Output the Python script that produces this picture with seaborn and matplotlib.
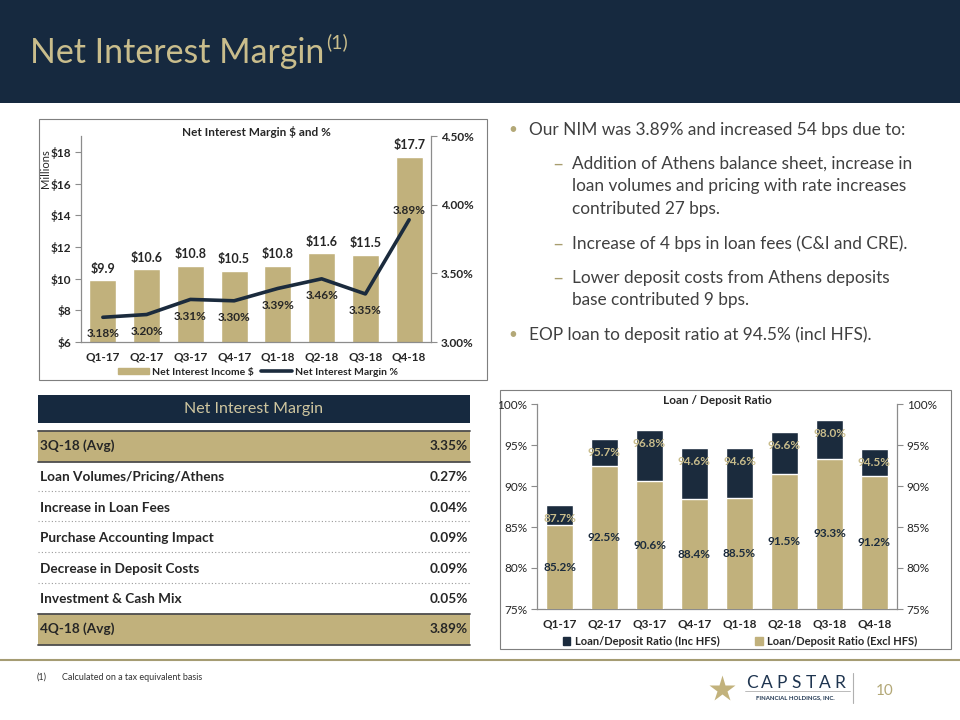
import numpy as np
import matplotlib
matplotlib.use("Agg")
import matplotlib.pyplot as plt
from matplotlib.patches import Rectangle, Patch
from matplotlib.lines import Line2D
import seaborn as sns

# ---------------- data ----------------
quarters = ["Q1-17", "Q2-17", "Q3-17", "Q4-17", "Q1-18", "Q2-18", "Q3-18", "Q4-18"]
nii_millions = [9.9, 10.6, 10.8, 10.5, 10.8, 11.6, 11.5, 17.7]
nim_pct = [3.18, 3.20, 3.31, 3.30, 3.39, 3.46, 3.35, 3.89]
ld_inc_hfs = [87.7, 95.7, 96.8, 94.6, 94.6, 96.6, 98.0, 94.5]
ld_excl_hfs = [85.2, 92.5, 90.6, 88.4, 88.5, 91.5, 93.3, 91.2]

left_ticks = [6, 8, 10, 12, 14, 16, 18]
right_ticks = [3.00, 3.50, 4.00, 4.50]
ld_ticks = [75, 80, 85, 90, 95, 100]

table_labels = ["3Q-18 (Avg)", "Loan Volumes/Pricing/Athens", "Increase in Loan Fees",
                "Purchase Accounting Impact", "Decrease in Deposit Costs",
                "Investment & Cash Mix", "4Q-18 (Avg)"]
table_values = ["3.35%", "0.27%", "0.04%", "0.09%", "0.09%", "0.05%", "3.89%"]

bullet_main_1 = "Our NIM was 3.89% and increased 54 bps due to:"
sub_bullets = [
    ["Addition of Athens balance sheet, increase in",
     "loan volumes and pricing with rate increases",
     "contributed 27 bps."],
    ["Increase of 4 bps in loan fees (C&I and CRE)."],
    ["Lower deposit costs from Athens deposits",
     "base contributed 9 bps."],
]
bullet_main_2 = "EOP loan to deposit ratio at 94.5% (incl HFS)."

# ---------------- style ----------------
sns.set_style("white")
plt.rcParams["font.family"] = ["Lato", "DejaVu Sans"]

NAVY = "#16293f"
GOLD = "#c1b17c"
TITLE_GOLD = "#c9bd8c"
TEXT = "#262626"
SPINE = "#8c8c8c"

W, H = 960, 720
fig = plt.figure(figsize=(9.6, 7.2), dpi=100)
fig.patch.set_facecolor("white")


def rect(l, t, r, b):
    return [l / W, 1 - b / H, (r - l) / W, (b - t) / H]


# overlay axes in pixel coordinates
ax0 = fig.add_axes([0, 0, 1, 1])
ax0.set_xlim(0, W)
ax0.set_ylim(H, 0)
ax0.axis("off")

# header band
ax0.add_patch(Rectangle((0, 0), W, 103, color=NAVY, lw=0))
title = ax0.text(30, 63, "Net Interest Margin", color=TITLE_GOLD, fontsize=24.4,
                 va="baseline", ha="left")
fig.canvas.draw()
title_end = title.get_window_extent(renderer=fig.canvas.get_renderer()).x1
ax0.text(title_end + 2, 48, "(1)", color=TITLE_GOLD, fontsize=14, va="baseline", ha="left")

# chart frames
ax0.add_patch(Rectangle((38.5, 118.5), 448, 261, fill=False, ec="#7f7f7f", lw=0.8))
ax0.add_patch(Rectangle((499.5, 389.5), 451, 259, fill=False, ec="#7f7f7f", lw=0.8))

# ---------------- top chart ----------------
ax1 = fig.add_axes(rect(81, 136, 431, 342))
ax1.set_facecolor("none")
sns.barplot(x=quarters, y=nii_millions, color=GOLD, saturation=1, width=0.62,
            errorbar=None, ax=ax1, zorder=2)
ax1.set_ylim(6, 19)
ax1.set_xlim(-0.5, len(quarters) - 0.5)
ax1.set_yticks(left_ticks)
ax1.set_yticklabels([f"${t}" for t in left_ticks])
ax1.set_xlabel("")
ax1.set_ylabel("")
for i, v in enumerate(nii_millions):
    ax1.annotate(f"${v}", (i, v), xytext=(0, 4), textcoords="offset points",
                 ha="center", va="bottom", fontsize=9, fontweight="bold", color=TEXT)

ax2 = ax1.twinx()
sns.lineplot(x=np.arange(len(quarters)), y=nim_pct, color="#1b2b3d", linewidth=2.6, ax=ax2)
ax2.set_ylim(3.0, 4.5)
ax2.set_xlim(-0.5, len(quarters) - 0.5)
ax2.set_yticks(right_ticks)
ax2.set_yticklabels([f"{t:.2f}%" for t in right_ticks])
ax2.set_ylabel("")
for i, v in enumerate(nim_pct):
    dy = 7 if i == len(nim_pct) - 1 else -12
    ax2.annotate(f"{v:.2f}%", (i, v), xytext=(0, dy), textcoords="offset points",
                 ha="center", va="center", fontsize=8.5, fontweight="bold", color=TEXT)

for ax in (ax1, ax2):
    for s in ax.spines.values():
        s.set_visible(False)
ax1.spines["left"].set_visible(True)
ax1.spines["bottom"].set_visible(True)
ax2.spines["right"].set_visible(True)
for s in (ax1.spines["left"], ax1.spines["bottom"], ax2.spines["right"]):
    s.set_color(SPINE)
    s.set_linewidth(0.9)
ax1.set_xticks(np.arange(-0.5, len(quarters), 1), minor=True)
ax1.tick_params(axis="x", which="major", length=0, pad=7, labelsize=8.5, labelcolor=TEXT)
ax1.tick_params(axis="x", which="minor", length=4, color=SPINE, direction="out")
ax1.tick_params(axis="y", length=4, color=SPINE, direction="out", labelsize=8.5,
                labelcolor=TEXT, pad=3, left=True)
ax2.tick_params(axis="y", length=4, color=SPINE, direction="out", labelsize=8.5,
                labelcolor=TEXT, pad=3, right=True)
for lab in ax1.get_xticklabels() + ax1.get_yticklabels() + ax2.get_yticklabels():
    lab.set_fontweight("bold")

fig.text(256 / W, 1 - 132 / H, "Net Interest Margin $ and %", ha="center", va="center",
         fontsize=8.5, fontweight="bold", color=TEXT)
fig.text(45 / W, 1 - 169 / H, "Millions", rotation=90, ha="center", va="center",
         fontsize=8, color=TEXT)

leg1 = fig.legend(handles=[Patch(color=GOLD), Line2D([0], [0], color="#1b2b3d", lw=2.6)],
                  labels=["Net Interest Income $", "Net Interest Margin %"],
                  loc="center", bbox_to_anchor=(258 / W, 1 - 372 / H), ncol=2,
                  frameon=False, fontsize=7.5, handlelength=3.0, handleheight=0.55,
                  columnspacing=0.6, handletextpad=0.3)
for t in leg1.get_texts():
    t.set_fontweight("bold")
    t.set_color(TEXT)

# ---------------- bullets ----------------
BUL = "#404040"
BFS = 12.4
ax0.text(513, 130, "•", color="#b3a877", fontsize=11, ha="center", va="center")
ax0.text(529, 130, bullet_main_1, color=BUL, fontsize=BFS, ha="left", va="center")
sub_y = [[164, 186, 209], [244], [278, 300]]
for lines, ys in zip(sub_bullets, sub_y):
    ax0.text(558, ys[0], "–", color="#a89d6e", fontsize=14, ha="center", va="center")
    for line, y in zip(lines, ys):
        ax0.text(572, y, line, color=BUL, fontsize=BFS, ha="left", va="center")
ax0.text(513, 335, "•", color="#b3a877", fontsize=11, ha="center", va="center")
ax0.text(529, 335, bullet_main_2, color=BUL, fontsize=BFS, ha="left", va="center")

# ---------------- table ----------------
TL, TR = 38, 470
ax0.add_patch(Rectangle((TL, 395), TR - TL, 28, color=NAVY, lw=0))
ax0.text((TL + TR) / 2, 409.5, "Net Interest Margin", color="#cfc6a0", fontsize=11.5,
         ha="center", va="center")
row_y = [446, 477, 508, 538, 569, 599, 629]
for k, (lab, val, y) in enumerate(zip(table_labels, table_values, row_y)):
    if k in (0, len(table_labels) - 1):
        ax0.add_patch(Rectangle((TL, y - 15.5), TR - TL, 31, color=GOLD, lw=0))
        ax0.plot([TL, TR], [y - 15.5, y - 15.5], color="#4d4d4d", lw=1.3)
        ax0.plot([TL, TR], [y + 15.5, y + 15.5], color="#4d4d4d", lw=1.3)
    ax0.text(TL + 2, y, lab, fontsize=9.8, fontweight="bold", color=TEXT, ha="left", va="center")
    ax0.text(TR - 2, y, val, fontsize=9.8, fontweight="bold", color=TEXT, ha="right", va="center")
for y in (491, 521, 552, 583):
    ax0.plot([TL, TR], [y, y], color="#9a9a9a", lw=0.8, ls=(0, (1, 2)))

# ---------------- bottom chart ----------------
ax3 = fig.add_axes(rect(537, 404, 897, 609))
ax3.set_facecolor("none")
sns.barplot(x=quarters, y=ld_inc_hfs, color="#1b2b3d", saturation=1, width=0.615,
            errorbar=None, ax=ax3, zorder=2)
sns.barplot(x=quarters, y=ld_excl_hfs, color=GOLD, saturation=1, width=0.615,
            errorbar=None, ax=ax3, zorder=3)
ax3.set_ylim(75, 100)
ax3.set_xlim(-0.5, len(quarters) - 0.5)
ax3.set_yticks(ld_ticks)
ax3.set_yticklabels([f"{t}%" for t in ld_ticks])
ax3.set_xlabel("")
ax3.set_ylabel("")
for i, (a, b) in enumerate(zip(ld_inc_hfs, ld_excl_hfs)):
    ax3.annotate(f"{a:.1f}%", (i, a), xytext=(0, -9.5), textcoords="offset points",
                 ha="center", va="center", fontsize=8.5, fontweight="bold",
                 color="#c9bd8c", zorder=5)
    ax3.text(i, (75 + b) / 2, f"{b:.1f}%", ha="center", va="center", fontsize=8.5,
             fontweight="bold", color="#1b2b3d", zorder=5)

ax4 = ax3.twinx()
ax4.set_ylim(75, 100)
ax4.set_yticks(ld_ticks)
ax4.set_yticklabels([f"{t}%" for t in ld_ticks])
for ax in (ax3, ax4):
    for s in ax.spines.values():
        s.set_visible(False)
ax3.spines["left"].set_visible(True)
ax3.spines["bottom"].set_visible(True)
ax4.spines["right"].set_visible(True)
for s in (ax3.spines["left"], ax3.spines["bottom"], ax4.spines["right"]):
    s.set_color(SPINE)
    s.set_linewidth(0.9)
ax3.set_xticks(np.arange(-0.5, len(quarters), 1), minor=True)
ax3.tick_params(axis="x", which="major", length=0, pad=7, labelsize=8.5, labelcolor=TEXT)
ax3.tick_params(axis="x", which="minor", length=4, color=SPINE, direction="out")
ax3.tick_params(axis="y", length=4, color=SPINE, direction="out", labelsize=8.5,
                labelcolor=TEXT, pad=3, left=True)
ax4.tick_params(axis="y", length=4, color=SPINE, direction="out", labelsize=8.5,
                labelcolor=TEXT, pad=3, right=True)
for lab in ax3.get_xticklabels():
    lab.set_fontweight("bold")

fig.text(717 / W, 1 - 401 / H, "Loan / Deposit Ratio", ha="center", va="center",
         fontsize=8.5, fontweight="bold", color=TEXT)
leg2 = fig.legend(handles=[Patch(color="#1b2b3d"), Patch(color=GOLD)],
                  labels=["Loan/Deposit Ratio (Inc HFS)", "Loan/Deposit Ratio (Excl HFS)"],
                  loc="center", bbox_to_anchor=(740 / W, 1 - 641 / H), ncol=2,
                  frameon=False, fontsize=8, handlelength=0.7, handleheight=0.7,
                  columnspacing=3.2, handletextpad=0.4)
for t in leg2.get_texts():
    t.set_fontweight("bold")
    t.set_color(TEXT)

# ---------------- footer ----------------
ax0.plot([0, W], [660, 660], color="#a59c73", lw=1.5)
ax0.text(37, 677, "(1)", fontsize=6.5, color="#333333", ha="left", va="center")
ax0.text(62, 677, "Calculated on a tax equivalent basis", fontsize=6.5, color="#333333",
         ha="left", va="center")
ax0.plot([722], [689], marker="*", markersize=20, color="#c2b27c", mec="none")
for k, ch in enumerate("CAPSTAR"):
    ax0.text(752 + k * 14.6, 683, ch, fontsize=12.5, color="#1f3550", ha="center", va="center")
ax0.plot([745, 850], [691, 691], color="#b0b0b0", lw=0.6)
ax0.text(795, 698, "FINANCIAL HOLDINGS, INC.", fontsize=4.3, fontweight="bold",
         color="#1f3550", ha="center", va="center")
ax0.plot([853, 853], [673, 703], color="#b0b0b0", lw=0.8)
ax0.text(885, 691, "10", fontsize=11, color="#b3a877", ha="center", va="center")

fig.savefig("out.png", dpi=100)
